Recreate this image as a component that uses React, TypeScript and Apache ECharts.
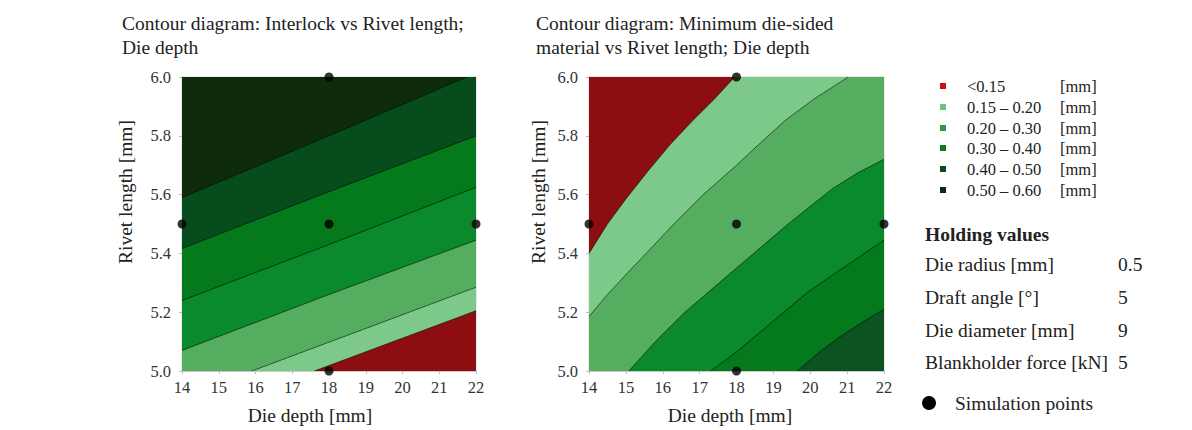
import React, { useEffect, useRef } from "react";
import * as echarts from "echarts";

// ---- data ----
const DIE_DEPTH_MIN = 14;
const DIE_DEPTH_MAX = 22;
const RIVET_MIN = 5.0;
const RIVET_MAX = 6.0;

const SIM_POINTS = [
  [14, 5.5],
  [18, 5.5],
  [22, 5.5],
  [18, 6.0],
  [18, 5.0],
];

// contour boundaries [die depth, rivet length], ordered from low value region to high
const INTERLOCK_CONTOURS = [
  [[17.6, 5.0], [22, 5.205]],
  [[15.9, 5.0], [18, 5.098], [22, 5.285]],
  [[14, 5.07], [18, 5.26], [22, 5.445]],
  [[14, 5.24], [18, 5.43], [22, 5.625]],
  [[14, 5.417], [18, 5.61], [22, 5.8]],
  [[14, 5.59], [18, 5.8], [21.75, 6.0]],
];

// ordered from bottom-right (high) to top-left (low)
const MIN_MATERIAL_CONTOURS = [
  [[19.65, 5.0], [20.3, 5.07], [20.85, 5.12], [21.4, 5.165], [22, 5.21]],
  [[17.3, 5.0], [18.0, 5.065], [19.0, 5.17], [19.95, 5.27], [21.0, 5.36], [22, 5.445]],
  [[15.08, 5.0], [15.8, 5.1], [16.6, 5.2], [18.0, 5.35], [19.4, 5.5], [20.6, 5.62], [21.3, 5.675], [22, 5.72]],
  [[14, 5.185], [14.5, 5.26], [15.07, 5.337], [15.7, 5.42], [16.3, 5.5], [17.1, 5.6], [18.0, 5.7], [18.6, 5.77], [19.3, 5.85], [20.1, 5.925], [21.03, 6.0]],
  [[14, 5.4], [14.5, 5.5], [15.0, 5.585], [15.6, 5.68], [16.2, 5.77], [16.8, 5.85], [17.4, 5.925], [17.95, 6.0]],
];

const LEGEND_LABELS = ["<0.15", "0.15 \u2013 0.20", "0.20 \u2013 0.30", "0.30 \u2013 0.40", "0.40 \u2013 0.50", "0.50 \u2013 0.60"];
const LEGEND_UNIT = "[mm]";
const HOLDING_TITLE = "Holding values";
const HOLDING_PARAMS = ["Die radius [mm]", "Draft angle [\u00b0]", "Die diameter [mm]", "Blankholder force [kN]"];
const HOLDING_VALUES = ["0.5", "5", "9", "5"];

const TITLE_LEFT = "Contour diagram: Interlock vs Rivet length;\nDie depth";
const TITLE_RIGHT = "Contour diagram: Minimum die-sided\nmaterial vs Rivet length; Die depth";
const X_NAME = "Die depth [mm]";
const Y_NAME = "Rivet length [mm]";

// ---- styles ----
const RED = "#8c0e10";
const LIGHT = "#7cc98a";
const MEDIUM = "#55ae60";
const GREEN = "#0a892d";
const GREEN2 = "#047a1d";
const DARK = "#074d1c";
const DARKEST = "#0e2c0c";
const LEFT_BASE = RED;
const LEFT_COLORS = [LIGHT, MEDIUM, GREEN, GREEN2, DARK, DARKEST];
const RIGHT_BASE = "#0b5420";
const RIGHT_COLORS = [GREEN2, GREEN, MEDIUM, LIGHT, RED];
const LEGEND_COLORS = ["#c8101a", "#6cc47a", "#2f9a45", "#0b7a20", "#0c4d1e", "#0c2a0c"];

const FONT = "'Liberation Serif', 'DejaVu Serif', serif";
const BIG = 19.5;

function bandPolygon(line: number[][]) {
  const pts = line.slice();
  const [startX, startY] = line[0];
  const [endX] = line[line.length - 1];
  if (endX >= DIE_DEPTH_MAX) pts.push([DIE_DEPTH_MAX, RIVET_MAX]);
  pts.push([DIE_DEPTH_MIN, RIVET_MAX]);
  if (startY <= RIVET_MIN && startX > DIE_DEPTH_MIN) pts.push([DIE_DEPTH_MIN, RIVET_MIN]);
  return pts;
}

function contourSeries(idx: number, base: string, lines: number[][][], colors: string[]) {
  const data = [base, ...lines].map((_, i) => [DIE_DEPTH_MIN, RIVET_MIN, i]);
  return {
    type: "custom",
    xAxisIndex: idx,
    yAxisIndex: idx,
    data,
    clip: true,
    silent: true,
    renderItem: (params: any, api: any) => {
      const i = params.dataIndex;
      if (i === 0) {
        const corners = [
          [DIE_DEPTH_MIN, RIVET_MIN],
          [DIE_DEPTH_MAX, RIVET_MIN],
          [DIE_DEPTH_MAX, RIVET_MAX],
          [DIE_DEPTH_MIN, RIVET_MAX],
        ];
        return {
          type: "polygon",
          shape: { points: corners.map((p) => api.coord(p)) },
          style: { fill: base },
        };
      }
      const line = lines[i - 1];
      return {
        type: "group",
        children: [
          {
            type: "polygon",
            shape: { points: bandPolygon(line).map((p) => api.coord(p)) },
            style: { fill: colors[i - 1] },
          },
          {
            type: "polyline",
            shape: { points: line.map((p) => api.coord(p)) },
            style: { stroke: "rgba(0,0,0,0.6)", lineWidth: 0.9, fill: null },
          },
        ],
      };
    },
  };
}

function xAxis(idx: number) {
  return {
    gridIndex: idx,
    type: "value",
    min: DIE_DEPTH_MIN,
    max: DIE_DEPTH_MAX,
    interval: 1,
    axisLine: { show: true, onZero: false, lineStyle: { color: "#c8c8c8" } },
    axisTick: { show: true, length: 3, lineStyle: { color: "#bbbbbb" } },
    axisLabel: { fontFamily: FONT, fontSize: 16.5, color: "#333", margin: 8, showMinLabel: true, showMaxLabel: true },
    splitLine: { show: false },
  };
}

function yAxis(idx: number) {
  return {
    gridIndex: idx,
    type: "value",
    min: RIVET_MIN,
    max: RIVET_MAX,
    interval: 0.2,
    axisLine: { show: true, onZero: false, lineStyle: { color: "#c8c8c8" } },
    axisTick: { show: true, length: 3, lineStyle: { color: "#bbbbbb" } },
    axisLabel: {
      fontFamily: FONT,
      fontSize: 16.5,
      color: "#333",
      margin: 11,
      showMinLabel: true,
      showMaxLabel: true,
      formatter: (v: number) => v.toFixed(1),
    },
    splitLine: { show: false },
  };
}

function textEl(text: string, x: number, y: number, opts: any = {}) {
  return {
    type: "text",
    x,
    y,
    rotation: opts.rotation || 0,
    style: {
      text,
      fontFamily: FONT,
      fontSize: opts.fontSize || BIG,
      fontWeight: opts.fontWeight || "normal",
      fill: opts.fill || "#222",
      align: opts.align || "left",
      verticalAlign: opts.verticalAlign || "middle",
      lineHeight: opts.lineHeight || 24,
    },
  };
}

export default function App() {
  const ref = useRef<HTMLDivElement>(null);
  useEffect(() => {
    if (!ref.current) return;
    const chart = echarts.init(ref.current, null, { renderer: "svg" });

    const graphics: any[] = [];
    graphics.push(textEl(TITLE_LEFT, 122, 11, { verticalAlign: "top" }));
    graphics.push(textEl(TITLE_RIGHT, 536, 11, { verticalAlign: "top" }));
    graphics.push(textEl(Y_NAME, 125, 192, { rotation: Math.PI / 2, align: "center" }));
    graphics.push(textEl(Y_NAME, 538, 192, { rotation: Math.PI / 2, align: "center" }));
    graphics.push(textEl(X_NAME, 310, 415, { align: "center" }));
    graphics.push(textEl(X_NAME, 730, 415, { align: "center" }));

    const legendRows = [86, 107, 128, 148, 169, 190];
    LEGEND_LABELS.forEach((lab, i) => {
      graphics.push({
        type: "rect",
        shape: { x: 940, y: legendRows[i] - 3, width: 6, height: 6 },
        style: { fill: LEGEND_COLORS[i] },
      });
      graphics.push(textEl(lab, 967, legendRows[i], { fontSize: 16.5 }));
      graphics.push(textEl(LEGEND_UNIT, 1060, legendRows[i], { fontSize: 16.5 }));
    });

    graphics.push(textEl(HOLDING_TITLE, 925, 234, { fontWeight: "bold" }));
    const holdRows = [264, 297, 330, 362];
    HOLDING_PARAMS.forEach((p, i) => {
      graphics.push(textEl(p, 925, holdRows[i]));
      graphics.push(textEl(HOLDING_VALUES[i], 1118, holdRows[i]));
    });
    graphics.push({
      type: "circle",
      shape: { cx: 929, cy: 403, r: 7 },
      style: { fill: "#000" },
    });
    graphics.push(textEl("Simulation points", 955, 403));

    chart.setOption({
      animation: false,
      backgroundColor: "#ffffff",
      grid: [
        { left: 182, top: 77, width: 294, height: 294, show: true, borderColor: "#d0d0d0", borderWidth: 1, backgroundColor: "transparent" },
        { left: 589, top: 77, width: 295, height: 294, show: true, borderColor: "#d0d0d0", borderWidth: 1, backgroundColor: "transparent" },
      ],
      xAxis: [xAxis(0), xAxis(1)],
      yAxis: [yAxis(0), yAxis(1)],
      series: [
        contourSeries(0, LEFT_BASE, INTERLOCK_CONTOURS, LEFT_COLORS),
        contourSeries(1, RIGHT_BASE, MIN_MATERIAL_CONTOURS, RIGHT_COLORS),
        {
          type: "scatter",
          xAxisIndex: 0,
          yAxisIndex: 0,
          data: SIM_POINTS,
          symbolSize: 9,
          itemStyle: { color: "#000" },
          clip: false,
          z: 5,
        },
        {
          type: "scatter",
          xAxisIndex: 1,
          yAxisIndex: 1,
          data: SIM_POINTS,
          symbolSize: 9,
          itemStyle: { color: "#000" },
          clip: false,
          z: 5,
        },
      ],
      graphic: graphics,
    });

    return () => chart.dispose();
  }, []);

  return (
    <div
      ref={ref}
      style={{ position: "absolute", left: 0, top: 0, width: 1192, height: 430 }}
    />
  );
}
